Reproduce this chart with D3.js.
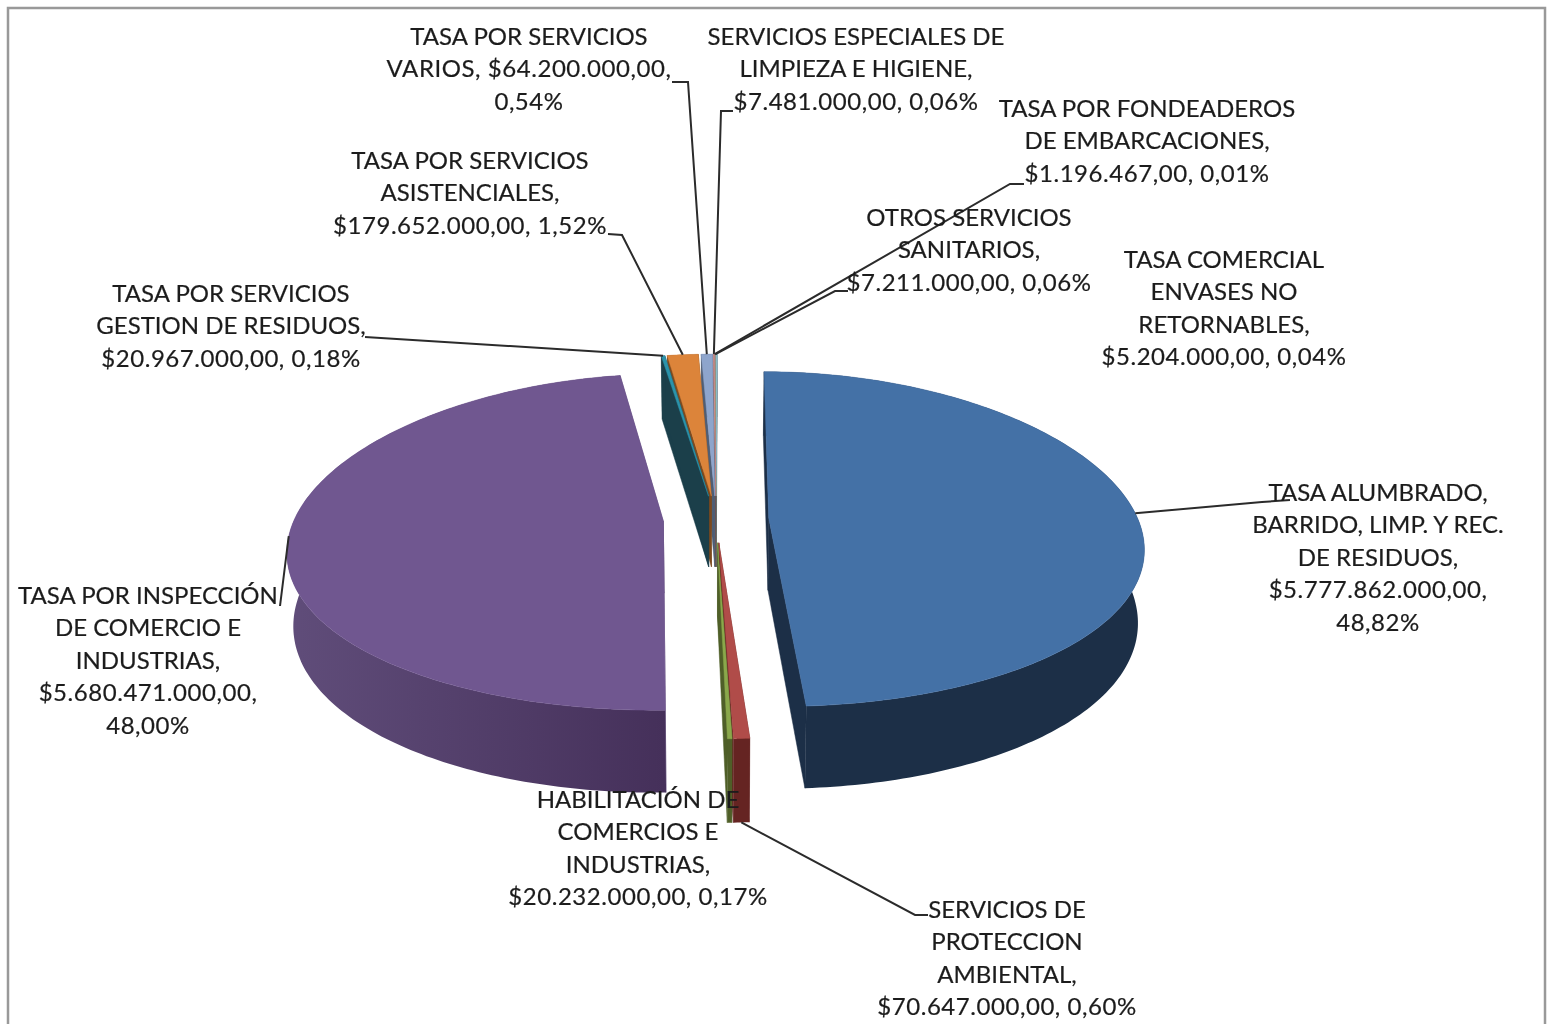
<!DOCTYPE html>
<html>
<head>
<meta charset="utf-8">
<script src="https://cdnjs.cloudflare.com/ajax/libs/d3/7.8.5/d3.min.js"></script>
<style>
  html, body { margin: 0; padding: 0; background: #fff; overflow: hidden; }
  #chart { filter: blur(0.45px); }
  text { font-family: Lato, sans-serif; font-size: 24px; fill: #1c1c1c; stroke: #1c1c1c; stroke-width: 0.2px; text-anchor: middle; }
</style>
</head>
<body>
<svg id="chart" width="1548" height="1024"></svg>
<script>
// values in pie order, clockwise from 12 o'clock
const categories = [
    'TASA ALUMBRADO, BARRIDO, LIMP. Y REC. DE RESIDUOS',
    'SERVICIOS DE PROTECCION AMBIENTAL',
    'HABILITACIÓN DE COMERCIOS E INDUSTRIAS',
    'TASA POR INSPECCIÓN DE COMERCIO E INDUSTRIAS',
    'TASA POR SERVICIOS GESTION DE RESIDUOS',
    'TASA POR SERVICIOS ASISTENCIALES',
    'TASA POR SERVICIOS VARIOS',
    'SERVICIOS ESPECIALES DE LIMPIEZA E HIGIENE',
    'TASA POR FONDEADEROS DE EMBARCACIONES',
    'OTROS SERVICIOS SANITARIOS',
    'TASA COMERCIAL ENVASES NO RETORNABLES'
];
const amounts = [5777862000, 70647000, 20232000, 5680471000, 20967000, 179652000, 64200000, 7481000, 1196467, 7211000, 5204000];
const labelLines = [
    ['TASA ALUMBRADO,', 'BARRIDO, LIMP. Y REC.', 'DE RESIDUOS,', '$5.777.862.000,00,', '48,82%'],
    ['SERVICIOS DE', 'PROTECCION', 'AMBIENTAL,', '$70.647.000,00, 0,60%'],
    ['HABILITACIÓN DE', 'COMERCIOS E', 'INDUSTRIAS,', '$20.232.000,00, 0,17%'],
    ['TASA POR INSPECCIÓN', 'DE COMERCIO E', 'INDUSTRIAS,', '$5.680.471.000,00,', '48,00%'],
    ['TASA POR SERVICIOS', 'GESTION DE RESIDUOS,', '$20.967.000,00, 0,18%'],
    ['TASA POR SERVICIOS', 'ASISTENCIALES,', '$179.652.000,00, 1,52%'],
    ['TASA POR SERVICIOS', 'VARIOS, $64.200.000,00,', '0,54%'],
    ['SERVICIOS ESPECIALES DE', 'LIMPIEZA E HIGIENE,', '$7.481.000,00, 0,06%'],
    ['TASA POR FONDEADEROS', 'DE EMBARCACIONES,', '$1.196.467,00, 0,01%'],
    ['OTROS SERVICIOS', 'SANITARIOS,', '$7.211.000,00, 0,06%'],
    ['TASA COMERCIAL', 'ENVASES NO', 'RETORNABLES,', '$5.204.000,00, 0,04%']
];

// styling and placement, separate from the values
const topColors = ['#4471a6', '#b04c49', '#8aa84b', '#705790', '#2b93ab', '#dc843a', '#8ea5cc', '#cf9190', '#b5c98f', '#a99bbd', '#93c6d6'];
const sideLeft = ['#1c2f47', '#652422', '#4f5f28', '#604d7a', '#1b3f4a', '#7c4a1f', '#4f5e75', '#755250', '#67734f', '#5f586c', '#54717a'];
const sideRight = ['#1c2f47', '#652422', '#4f5f28', '#45305a', '#1b3f4a', '#7c4a1f', '#4f5e75', '#755250', '#67734f', '#5f586c', '#54717a'];
const labelX = [1378, 1007, 638, 148, 231, 470, 529, 856, 1147, 969, 1224];
const labelY = [492, 909, 799, 595, 293, 160, 36, 36, 108, 217, 259];
const leaderBends = [
    [[1262, 502], [1290, 500]],
    [[915, 915], [928, 915]],
    null,
    [[280, 606]],
    [[365, 337]],
    [[622, 235], [608, 234]],
    [[688, 82], [672, 82]],
    [[721, 111], [733, 111]],
    [[1010, 184], [1024, 184]],
    [[835, 291], [848, 291]],
    null
];
// degrees the leader start is moved along the rim from the slice middle
const leaderTweak = [-2.6, 0, 0, 2.4, 0, 0, 0, 0, 0, 0, 0];

const centerX = 716, centerY = 519;
const radiusX = 372, radiusY = 165;
const explode = 0.142, perspective = 0.125, depth = 72;
const taper = 0.015, bulge = 8;
const lineHeight = 32.6;

const toRad = d => d * Math.PI / 180;

const pie = d3.pie().sort(null).value(d => d)
    .startAngle(toRad(0.2)).endAngle(toRad(360.2));

// unit disc point -> screen, with perspective and the slice pushed out along its middle
function project(angle, slice, drop, onRim = true) {
    const mid = (slice.startAngle + slice.endAngle) / 2;
    const u = (onRim ? Math.sin(angle) : 0) + explode * Math.sin(mid);
    const v = (onRim ? -Math.cos(angle) : 0) - explode * Math.cos(mid);
    const s = 1 / (1 - perspective * v);
    const sag = onRim ? bulge * Math.sin(angle) * Math.sin(angle) : 0;
    return [
        centerX + radiusX * u * s * (1 - taper * drop / depth),
        centerY + radiusY * v * s + sag + drop * s
    ];
}

function rimPoints(slice, drop) {
    const n = Math.ceil((slice.endAngle - slice.startAngle) / toRad(1)) + 1;
    return d3.range(n + 1).map(i => project(slice.startAngle + (slice.endAngle - slice.startAngle) * i / n, slice, drop));
}

const svg = d3.select('#chart');
const path = d3.line();
const closed = pts => path(pts) + 'Z';

// chart frame
svg.append('rect')
    .attr('x', 8).attr('y', 8).attr('width', 1537).attr('height', 1040)
    .attr('fill', 'none').attr('stroke', '#999').attr('stroke-width', 2.5);

const defs = svg.append('defs');
const slices = pie(amounts).map((d, i) => ({ ...d, i }));

slices.forEach(d => {
    const grad = defs.append('linearGradient').attr('id', 'side' + d.i);
    grad.append('stop').attr('offset', '0%').attr('stop-color', sideLeft[d.i]);
    grad.append('stop').attr('offset', '100%').attr('stop-color', sideRight[d.i]);
});

// painter's order: back of the pie first
const drawOrder = slices.slice().sort((a, b) => {
    const va = -Math.cos((a.startAngle + a.endAngle) / 2);
    const vb = -Math.cos((b.startAngle + b.endAngle) / 2);
    return va - vb;
});

const pieG = svg.append('g');
drawOrder.forEach(d => {
    const g = pieG.append('g').attr('class', 'slice');
    const tipTop = project(0, d, 0, false);
    const tipBottom = project(0, d, depth, false);
    const top = rimPoints(d, 0);
    const bottom = rimPoints(d, depth);

    // the two cut faces
    [[top[0], bottom[0]], [top[top.length - 1], bottom[bottom.length - 1]]].forEach(edge => {
        g.append('path')
            .attr('d', closed([tipTop, edge[0], edge[1], tipBottom]))
            .attr('fill', sideLeft[d.i])
            .attr('stroke', sideLeft[d.i]).attr('stroke-width', 0.5);
    });
    // outer wall
    g.append('path')
        .attr('d', closed(top.concat(bottom.slice().reverse())))
        .attr('fill', `url(#side${d.i})`);
    // top face
    g.append('path')
        .attr('d', closed([tipTop].concat(top)))
        .attr('fill', topColors[d.i])
        .attr('stroke', topColors[d.i]).attr('stroke-width', 0.5);
});

// leader lines, from the rim near the middle of the slice
const leaderG = svg.append('g');
slices.forEach(d => {
    if (!leaderBends[d.i]) return;
    const mid = (d.startAngle + d.endAngle) / 2;
    // front slices are picked up at the bottom of the wall
    const drop = Math.cos(mid) < -0.9 ? depth : 0;
    leaderG.append('path')
        .attr('d', path([project(mid + toRad(leaderTweak[d.i]), d, drop)].concat(leaderBends[d.i])))
        .attr('fill', 'none').attr('stroke', '#2b2b2b').attr('stroke-width', 2);
});

// labels
const labelG = svg.append('g');
slices.forEach(d => {
    const t = labelG.append('text')
        .attr('transform', `translate(${labelX[d.i]},${labelY[d.i]})`);
    t.selectAll('tspan').data(labelLines[d.i]).join('tspan')
        .attr('x', 0)
        .attr('y', (l, j) => j * lineHeight + 8.5)
        .attr('letter-spacing', l => /\d/.test(l) ? 0.55 : null)
        .text(l => l);
});
</script>
</body>
</html>
